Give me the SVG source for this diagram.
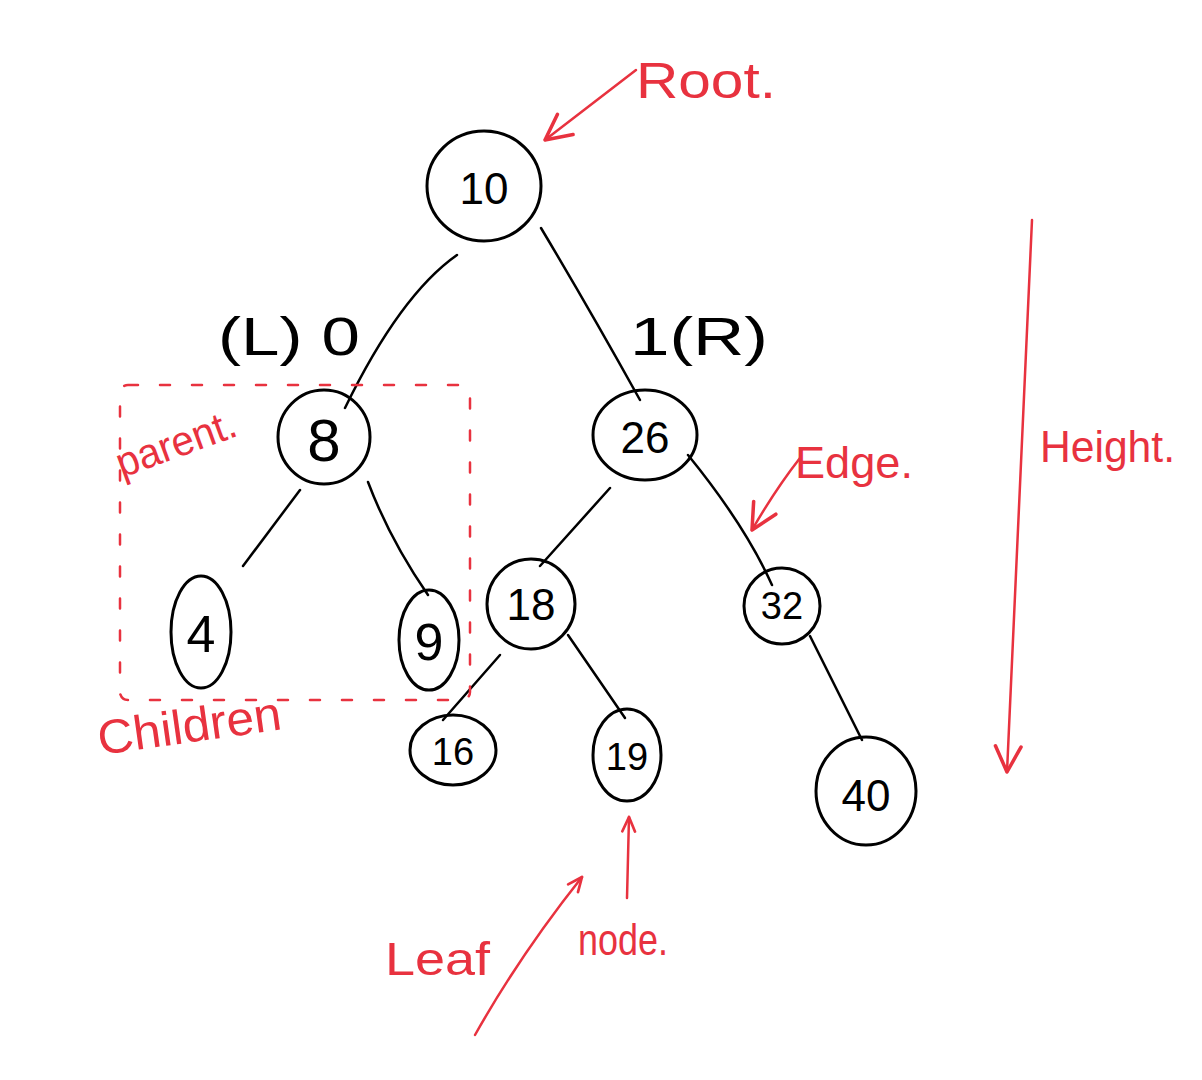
<svg xmlns="http://www.w3.org/2000/svg" width="1202" height="1080" viewBox="0 0 1202 1080">
<style>
.node ellipse{fill:none;stroke:#000;stroke-width:3}
.node text{font-family:"Liberation Sans",Arial,sans-serif;font-size:44px;fill:#000;text-anchor:middle;dominant-baseline:central}
.edge{fill:none;stroke:#000;stroke-width:2.5;stroke-linecap:round}
.red{fill:none;stroke:#e8323f;stroke-width:2.5;stroke-linecap:round;stroke-linejoin:round}
.rt{font-family:"Liberation Sans",Arial,sans-serif;fill:#e8323f}
.bt{font-family:"Liberation Sans",Arial,sans-serif;fill:#000;font-size:54px}
</style>
<defs>
<marker id="ah" viewBox="0 0 20 20" refX="18" refY="10" markerWidth="32" markerHeight="32" markerUnits="userSpaceOnUse" orient="auto">
<path d="M2 2 L18 10 L2 18" fill="none" stroke="#e8323f" stroke-width="2.2" stroke-linecap="round" stroke-linejoin="round"/>
</marker>
<marker id="ahs" viewBox="0 0 20 20" refX="18" refY="10" markerWidth="18" markerHeight="18" markerUnits="userSpaceOnUse" orient="auto">
<path d="M2 3 L18 10 L2 17" fill="none" stroke="#e8323f" stroke-width="3" stroke-linecap="round" stroke-linejoin="round"/>
</marker>
</defs>
<rect width="1202" height="1080" fill="#fff"/>

<g id="connectors">
<path class="edge" d="M457 255 Q400 295 345 408"/>
<path class="edge" d="M541 228 Q590 310 640 400"/>
<path class="edge" d="M300 490 L243 566"/>
<path class="edge" d="M368 482 Q390 540 428 595"/>
<path class="edge" d="M610 488 L540 566"/>
<path class="edge" d="M688 455 Q745 525 772 585"/>
<path class="edge" d="M500 655 L443 720"/>
<path class="edge" d="M568 635 L625 718"/>
<path class="edge" d="M810 636 L862 740"/>
</g>

<g id="node-10" class="node"><ellipse cx="484" cy="186" rx="57" ry="55"/><text x="484" y="188">10</text></g>
<g id="node-8" class="node"><ellipse cx="324" cy="437" rx="46" ry="47"/><text x="324" y="440" style="font-size:60px">8</text></g>
<g id="node-26" class="node"><ellipse cx="645" cy="435" rx="52" ry="45"/><text x="645" y="437">26</text></g>
<g id="node-4" class="node"><ellipse cx="201" cy="632" rx="30" ry="56"/><text x="201" y="634" style="font-size:52px">4</text></g>
<g id="node-9" class="node"><ellipse cx="429" cy="640" rx="30" ry="50"/><text x="429" y="642" style="font-size:52px">9</text></g>
<g id="node-18" class="node"><ellipse cx="531" cy="604" rx="44" ry="45"/><text x="531" y="604">18</text></g>
<g id="node-32" class="node"><ellipse cx="782" cy="606" rx="38" ry="38"/><text x="782" y="606" style="font-size:38px">32</text></g>
<g id="node-16" class="node"><ellipse cx="453" cy="750" rx="43" ry="35"/><text x="453" y="752" style="font-size:38px">16</text></g>
<g id="node-19" class="node"><ellipse cx="627" cy="755" rx="34" ry="46"/><text x="627" y="757" style="font-size:38px">19</text></g>
<g id="node-40" class="node"><ellipse cx="866" cy="791" rx="50" ry="54"/><text x="866" y="795">40</text></g>

<g id="labels">
<text class="bt" x="218" y="355" textLength="142" lengthAdjust="spacingAndGlyphs">(L) 0</text>
<text class="bt" x="630" y="355" textLength="138" lengthAdjust="spacingAndGlyphs">1(R)</text>
</g>

<g id="annotations">
<path class="red" d="M636 70 L545 140" marker-end="url(#ah)"/>
<text class="rt" x="636" y="98" font-size="50" textLength="140" lengthAdjust="spacingAndGlyphs">Root.</text>

<path class="red" d="M800 458 Q775 490 752 530" marker-end="url(#ah)"/>
<text class="rt" x="795" y="478" font-size="44" textLength="118" lengthAdjust="spacingAndGlyphs">Edge.</text>

<path class="red" d="M1032 220 Q1020 500 1007 772" marker-end="url(#ah)"/>
<text class="rt" x="1040" y="462" font-size="44" textLength="135" lengthAdjust="spacingAndGlyphs">Height.</text>

<text class="rt" x="122" y="478" font-size="42" textLength="125" lengthAdjust="spacingAndGlyphs" transform="rotate(-20 122 478)">parent.</text>

<rect x="120" y="385" width="350" height="315" rx="8" fill="none" stroke="#e8323f" stroke-width="2.5" stroke-dasharray="10 22" stroke-linecap="round"/>
<text class="rt" x="100" y="755" font-size="48" textLength="185" lengthAdjust="spacingAndGlyphs" transform="rotate(-8 100 755)">Children</text>

<text class="rt" x="385" y="975" font-size="46" textLength="105" lengthAdjust="spacingAndGlyphs">Leaf</text>
<path class="red" d="M475 1035 Q520 955 582 877" marker-end="url(#ahs)"/>
<path class="red" d="M627 898 L629 817" marker-end="url(#ahs)"/>
<text class="rt" x="578" y="955" font-size="44" textLength="90" lengthAdjust="spacingAndGlyphs">node.</text>
</g>
</svg>
